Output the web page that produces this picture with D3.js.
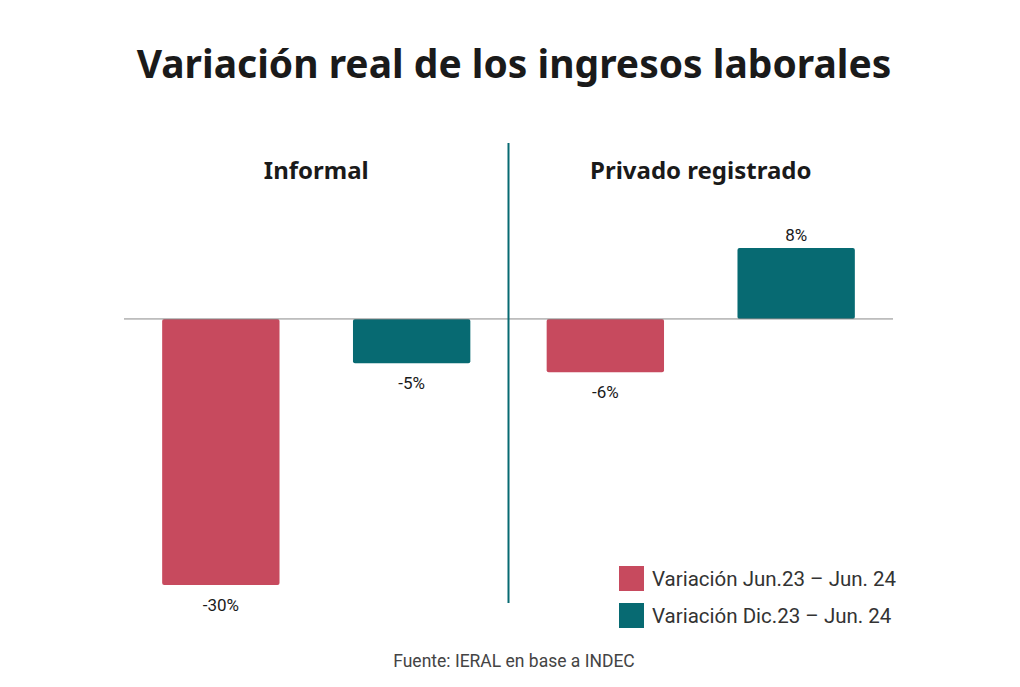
<!DOCTYPE html>
<html>
<head>
<meta charset="utf-8">
<script src="https://cdn.jsdelivr.net/npm/d3@7"></script>
<style>
  body { margin: 0; background: #fff; }
  svg { display: block; }
</style>
</head>
<body>
<script>
// Data
const panels = ["Informal", "Privado registrado"];
const seriesNames = ["Variación Jun.23 – Jun. 24", "Variación Dic.23 – Jun. 24"];
const informal = [-30, -5];
const privado = [-6, 8];
const colors = ["#c74a5e", "#076a72"];

const width = 1020, height = 687;
const svg = d3.select("body").append("svg")
    .attr("width", width)
    .attr("height", height);

// Title
svg.append("text")
    .attr("x", 514)
    .attr("y", 78)
    .attr("text-anchor", "middle")
    .attr("font-family", "Noto Sans")
    .attr("font-weight", 700)
    .attr("font-size", 39)
    .attr("fill", "#1a1a1a")
    .text("Variación real de los ingresos laborales");

// One outer band per panel, inner band per series
let x0 = d3.scaleBand()
    .domain(panels)
    .range([124, 893]);

let x1 = d3.scaleBand()
    .domain(seriesNames)
    .range([0, x0.bandwidth()])
    .paddingInner(0.385)
    .paddingOuter(0.2);

let y = d3.scaleLinear()
    .domain([-30, 8])
    .range([585, 248]);

let panelData = [informal, privado];

let g = svg.selectAll(".panel")
  .data(panels)
  .enter()
  .append("g")
    .attr("class", "panel")
    .attr("transform", (d) => `translate(${x0(d)},0)`);

g.append("text")
    .attr("x", x0.bandwidth() / 2)
    .attr("y", 179)
    .attr("text-anchor", "middle")
    .attr("font-family", "Noto Sans")
    .attr("font-weight", 700)
    .attr("font-size", 24)
    .attr("fill", "#1a1a1a")
    .text((d) => d);

g.each(function(p, i) {
  let vals = panelData[i];
  let sel = d3.select(this);

  sel.selectAll("rect")
    .data(vals)
    .enter()
    .append("rect")
      .attr("x", (d, j) => x1(seriesNames[j]))
      .attr("y", (d) => y(Math.max(0, d)))
      .attr("width", x1.bandwidth())
      .attr("height", (d) => Math.abs(y(d) - y(0)))
      .attr("rx", 2)
      .attr("fill", (d, j) => colors[j]);

  sel.selectAll(".val")
    .data(vals)
    .enter()
    .append("text")
      .attr("class", "val")
      .attr("x", (d, j) => x1(seriesNames[j]) + x1.bandwidth() / 2)
      .attr("y", (d) => d < 0 ? y(d) + 26 : y(d) - 7)
      .attr("text-anchor", "middle")
      .attr("font-family", "Roboto")
      .attr("font-size", 17)
      .attr("fill", "#1a1a1a")
      .text((d) => `${d}%`);
});

// Zero line
svg.append("line")
    .attr("x1", 124)
    .attr("x2", 893)
    .attr("y1", y(0))
    .attr("y2", y(0))
    .attr("stroke", "#8a8a8a")
    .attr("stroke-width", 1);

// Divider between panels
svg.append("line")
    .attr("x1", x0(panels[1]))
    .attr("x2", x0(panels[1]))
    .attr("y1", 143)
    .attr("y2", 603)
    .attr("stroke", "#076a72")
    .attr("stroke-width", 2);

// Legend
let legend = svg.selectAll(".legend")
  .data(seriesNames)
  .enter()
  .append("g")
    .attr("class", "legend")
    .attr("transform", (d, i) => `translate(619,${566 + i * 37})`);

legend.append("rect")
    .attr("width", 25)
    .attr("height", 25)
    .attr("fill", (d, i) => colors[i]);

legend.append("text")
    .attr("x", 33)
    .attr("y", 20)
    .attr("font-family", "Roboto")
    .attr("font-size", 20.5)
    .attr("fill", "#333")
    .text((d) => d);

// Source
svg.append("text")
    .attr("x", 514)
    .attr("y", 667)
    .attr("text-anchor", "middle")
    .attr("font-family", "Roboto")
    .attr("font-size", 17.5)
    .attr("fill", "#444")
    .text("Fuente: IERAL en base a INDEC");
</script>
</body>
</html>
